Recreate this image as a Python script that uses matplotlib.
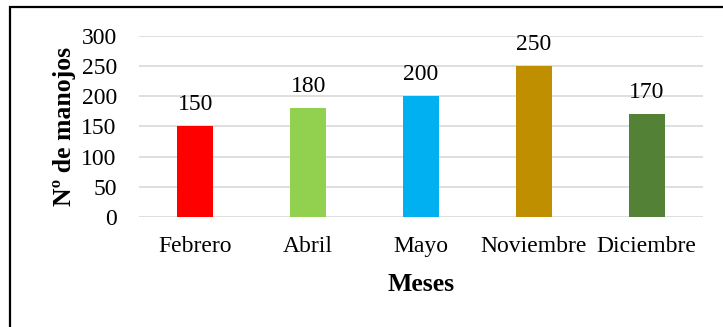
import matplotlib
matplotlib.use("Agg")
import matplotlib.pyplot as plt
from matplotlib.patches import Rectangle

categories = ["Febrero", "Abril", "Mayo", "Noviembre", "Diciembre"]
values = [150, 180, 200, 250, 170]
colors = ["#FF0000", "#92D050", "#00B0F0", "#BF8F00", "#538135"]
yticks = [0, 50, 100, 150, 200, 250, 300]

plt.rcParams['font.family'] = ['Liberation Serif', 'DejaVu Serif']

fig = plt.figure(figsize=(7.23, 3.27), dpi=100)
ax = fig.add_axes([139/723, 1-217/327, 564/723, 181/327])

x = list(range(len(categories)))
bars = ax.bar(x, values, width=0.32, color=colors, zorder=3)
for xi, v in zip(x, values):
    ax.annotate(str(v), (xi, v), xytext=(0, 8), textcoords="offset points",
                ha="center", va="bottom", fontsize=17, color="#000000")

ax.set_xlim(-0.5, len(categories) - 0.5)
ax.set_ylim(0, 300)
ax.set_yticks(yticks)
ax.set_yticklabels([str(t) for t in yticks], fontsize=17)
ax.set_xticks(x)
ax.set_xticklabels(categories, fontsize=17)
ax.tick_params(axis='y', length=0, pad=16)
ax.tick_params(axis='x', length=0, pad=13.5)
ax.grid(axis='y', color='#d9d9d9', linewidth=1.2, zorder=0)
for s in ax.spines.values():
    s.set_visible(False)

ax.set_xlabel("Meses", fontsize=18.5, fontweight='bold', labelpad=12)
ax.set_ylabel("Nº de manojos", fontsize=18.5, fontweight='bold', labelpad=4)

fig.patches.append(Rectangle((10/723, -0.2), 1.0, 1.2 - 7/327, transform=fig.transFigure,
                             fill=False, edgecolor='black', linewidth=1.6))

fig.savefig("out.png", dpi=100)
